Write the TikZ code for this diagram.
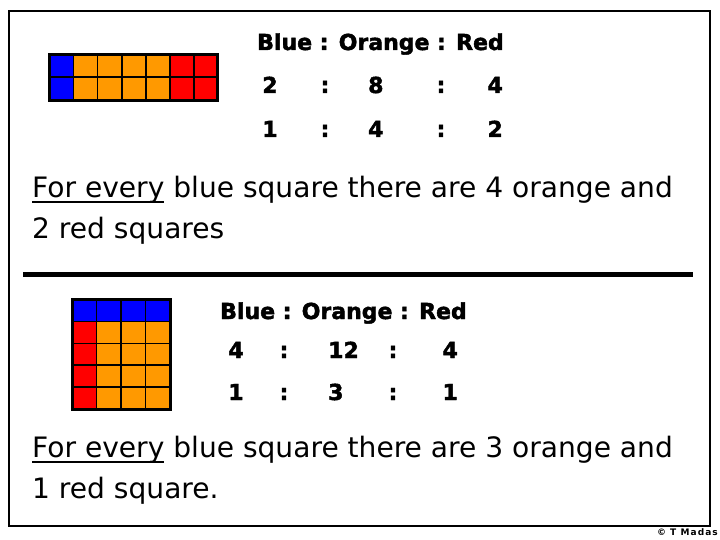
\documentclass[tikz,border=0pt]{standalone}
\usepackage{fontspec}
\setmainfont{DejaVu Sans}
\newfontfamily\hdrfont{DejaVu Sans}[FakeBold=2]
\newfontfamily\cpyfont{DejaVu Sans}[LetterSpace=12]
\definecolor{sqblue}{RGB}{0,0,255}
\definecolor{sqorange}{RGB}{255,153,0}
\definecolor{sqred}{RGB}{255,0,0}
\newcommand\ulx[1]{\setbox0\hbox{#1}\rlap{\rule[-5.5pt]{\wd0}{1.8pt}}#1}
\tikzset{
  hdr/.style={font=\hdrfont\bfseries\fontsize{22}{27}\selectfont, inner sep=0pt},
  sent/.style={font=\fontsize{28.1}{33}\selectfont, inner sep=0pt},
  inner line/.style={line width=1.6pt},
  outer line/.style={line width=3pt},
}
\begin{document}
\begin{tikzpicture}[x=1pt,y=-1pt]
\useasboundingbox (0,0) rectangle (720,540);
% frame
\draw[line width=1.5pt] (9,11) rectangle (710,526);

% ---- top grid 7 x 2
\def\tx{49.5}\def\ty{54.5}\def\tw{24.07}\def\th{22.8}
\foreach \c/\col in {0/sqblue,1/sqorange,2/sqorange,3/sqorange,4/sqorange,5/sqred,6/sqred}{
  \fill[\col] (\tx+\c*\tw,\ty) rectangle ++(\tw,2*\th);
}
\foreach \c in {1,...,6}{\draw[inner line] (\tx+\c*\tw,\ty) -- ++(0,2*\th);}
\draw[inner line] (\tx,\ty+\th) -- ++(7*\tw,0);
\draw[outer line] (\tx,\ty) rectangle ++(7*\tw,2*\th);

% ---- top ratio table
\node[hdr, anchor=base west] (h1) at (257,50) {Blue : Orange : Red};
\node[hdr, anchor=base] (a1) at (270,93) {2};
\node[hdr, anchor=base] (a2) at (325,93) {:};
\node[hdr, anchor=base west] (a3) at (368,93) {8};
\node[hdr, anchor=base] (a4) at (441,93) {:};
\node[hdr, anchor=base east] (a5) at (503,93) {4};
\node[hdr, anchor=base] (b1) at (270,137) {1};
\node[hdr, anchor=base] (b2) at (325,137) {:};
\node[hdr, anchor=base west] (b3) at (368,137) {4};
\node[hdr, anchor=base] (b4) at (441,137) {:};
\node[hdr, anchor=base east] (b5) at (503,137) {2};

% ---- top sentence
\node[sent, anchor=base west] (s1) at (32,197) {\ulx{For every} blue square there are 4 orange and};
\node[sent, anchor=base west] (s2) at (32,238) {2 red squares};

% ---- separator
\coordinate (l1) at (23,274.5);
\coordinate (l2) at (693,274.5);
\draw[line width=4.5pt] (l1) -- (l2);

% ---- bottom grid 4 x 5
\def\bx{72}\def\by{299.5}\def\bw{24.5}\def\bh{21.9}
\fill[sqblue] (\bx,\by) rectangle ++(4*\bw,\bh);
\fill[sqred] (\bx,\by+\bh) rectangle ++(\bw,4*\bh);
\fill[sqorange] (\bx+\bw,\by+\bh) rectangle ++(3*\bw,4*\bh);
\foreach \c in {1,2,3}{\draw[inner line] (\bx+\c*\bw,\by) -- ++(0,5*\bh);}
\foreach \r in {1,2,3,4}{\draw[inner line] (\bx,\by+\r*\bh) -- ++(4*\bw,0);}
\draw[outer line] (\bx,\by) rectangle ++(4*\bw,5*\bh);

% ---- bottom ratio table
\node[hdr, anchor=base west] (h2) at (220,319) {Blue : Orange : Red};
\node[hdr, anchor=base] (c1) at (236,358) {4};
\node[hdr, anchor=base] (c2) at (284,358) {:};
\node[hdr, anchor=base west] (c3) at (328,358) {12};
\node[hdr, anchor=base] (c4) at (393,358) {:};
\node[hdr, anchor=base east] (c5) at (458,358) {4};
\node[hdr, anchor=base] (d1) at (236,400) {1};
\node[hdr, anchor=base] (d2) at (284,400) {:};
\node[hdr, anchor=base west] (d3) at (328,400) {3};
\node[hdr, anchor=base] (d4) at (393,400) {:};
\node[hdr, anchor=base east] (d5) at (458,400) {1};

% ---- bottom sentence
\node[sent, anchor=base west] (s3) at (32,457) {\ulx{For every} blue square there are 3 orange and};
\node[sent, anchor=base west] (s4) at (32,498) {1 red square.};

% ---- copyright
\node[anchor=base east, inner sep=0pt, font=\cpyfont\bfseries\fontsize{9}{11}\selectfont] (cp) at (718,535) {© T Madas};
\end{tikzpicture}
\end{document}
